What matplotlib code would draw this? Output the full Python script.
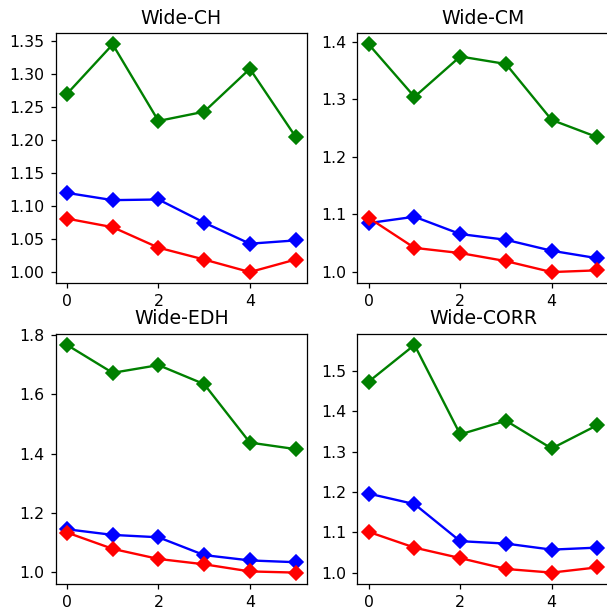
import matplotlib
matplotlib.use("Agg")
import matplotlib.pyplot as plt
from matplotlib.ticker import MultipleLocator

x = [0, 1, 2, 3, 4, 5]
titles = ["Wide-CH", "Wide-CM", "Wide-EDH", "Wide-CORR"]
tick_steps = [0.05, 0.1, 0.2, 0.1]

green = [
    [1.270, 1.345, 1.229, 1.243, 1.308, 1.205],
    [1.395, 1.304, 1.374, 1.361, 1.264, 1.234],
    [1.766, 1.672, 1.698, 1.634, 1.437, 1.415],
    [1.474, 1.565, 1.343, 1.377, 1.308, 1.366],
]
blue = [
    [1.120, 1.109, 1.110, 1.075, 1.043, 1.048],
    [1.085, 1.096, 1.066, 1.056, 1.037, 1.024],
    [1.145, 1.126, 1.118, 1.058, 1.040, 1.034],
    [1.196, 1.170, 1.078, 1.072, 1.057, 1.062],
]
red = [
    [1.081, 1.068, 1.037, 1.019, 1.000, 1.019],
    [1.094, 1.042, 1.033, 1.019, 1.000, 1.003],
    [1.134, 1.079, 1.045, 1.027, 1.003, 0.999],
    [1.101, 1.062, 1.036, 1.009, 1.000, 1.013],
]

dpi = 113
fig, axes = plt.subplots(2, 2, figsize=(607 / dpi, 608 / dpi), dpi=dpi)
for i, ax in enumerate(axes.flat):
    ax.plot(x, green[i], color="g", marker="D", markersize=6.3)
    ax.plot(x, blue[i], color="b", marker="D", markersize=6.3)
    ax.plot(x, red[i], color="r", marker="D", markersize=6.3)
    ax.set_title(titles[i])
    ax.yaxis.set_major_locator(MultipleLocator(tick_steps[i]))
    ax.xaxis.set_major_locator(MultipleLocator(2))
fig.subplots_adjust(left=0.0915, right=1.003, top=0.9457, bottom=0.0395, wspace=0.2, hspace=0.2)
fig.savefig("out.png", dpi=dpi)
